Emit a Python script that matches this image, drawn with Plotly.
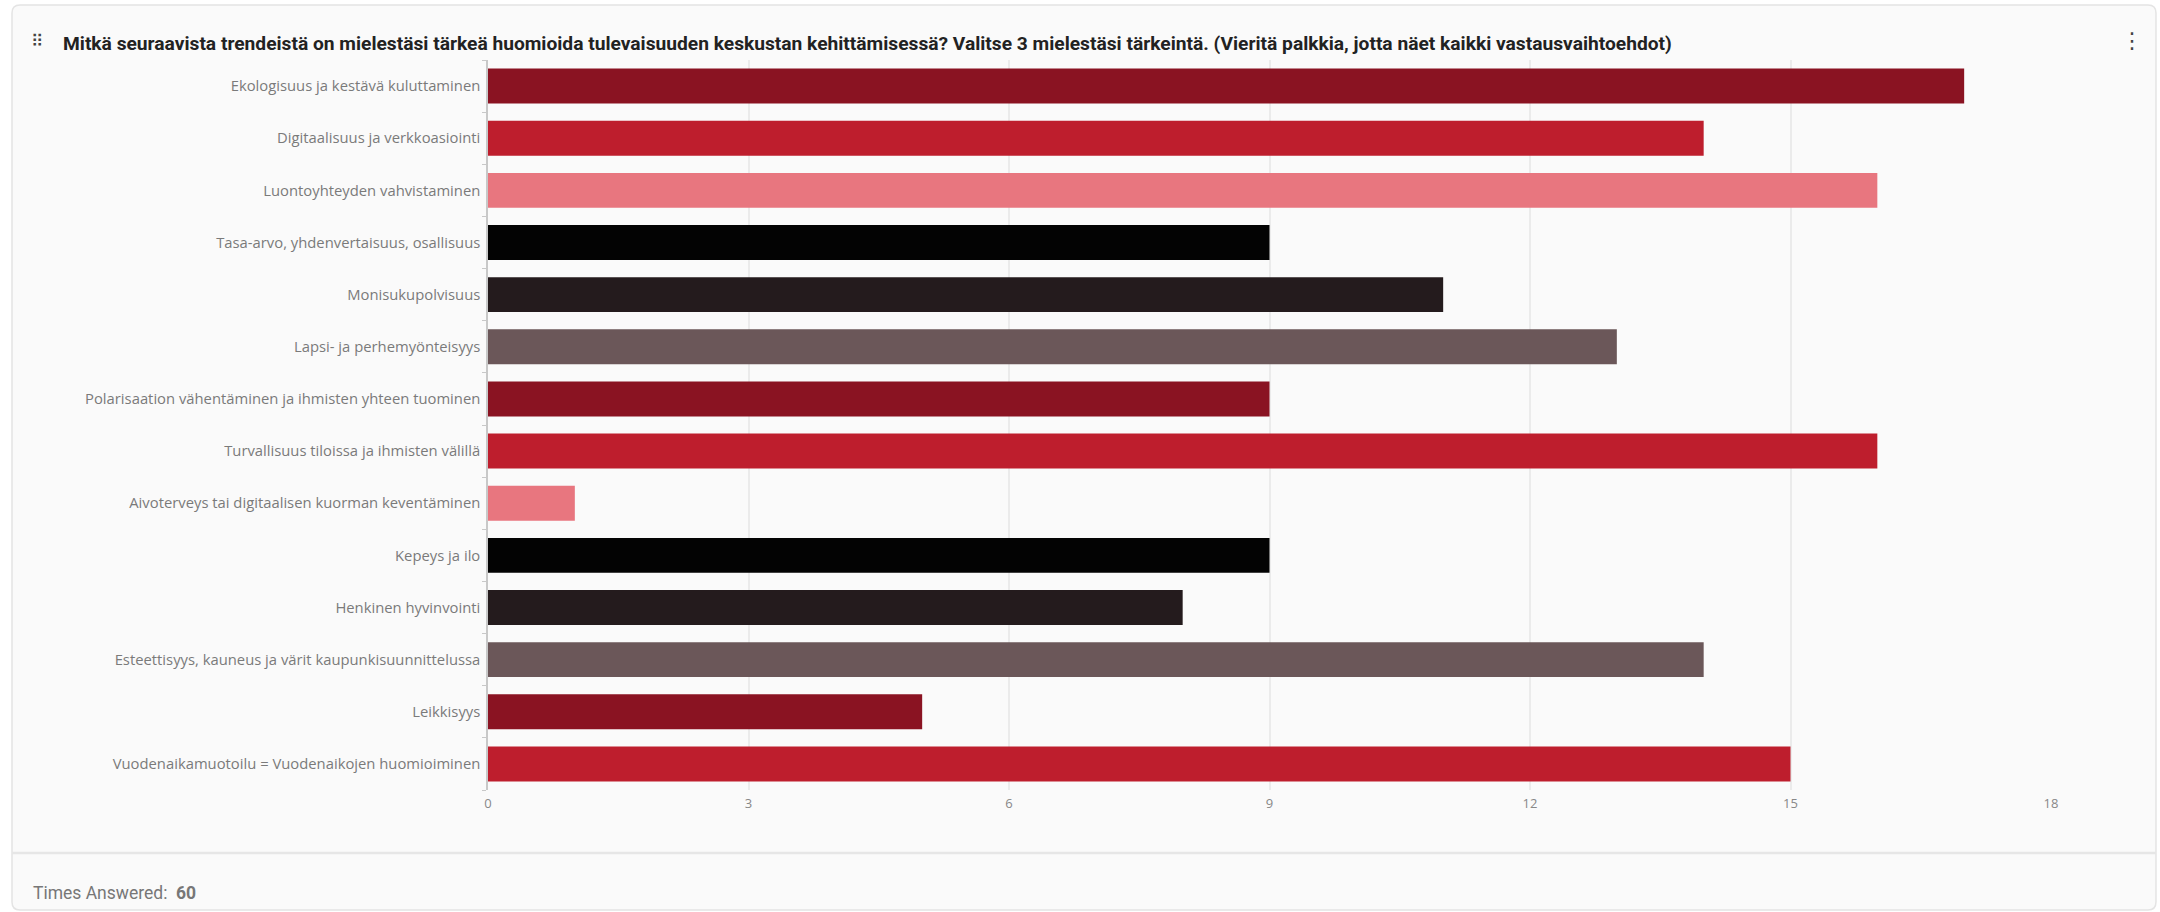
import plotly.graph_objects as go

title_text = ("Mitkä seuraavista trendeistä on mielestäsi tärkeä huomioida tulevaisuuden keskustan "
              "kehittämisessä? Valitse 3 mielestäsi tärkeintä. (Vieritä palkkia, jotta näet kaikki vastausvaihtoehdot)")

categories = [
    "Ekologisuus ja kestävä kuluttaminen",
    "Digitaalisuus ja verkkoasiointi",
    "Luontoyhteyden vahvistaminen",
    "Tasa-arvo, yhdenvertaisuus, osallisuus",
    "Monisukupolvisuus",
    "Lapsi- ja perhemyönteisyys",
    "Polarisaation vähentäminen ja ihmisten yhteen tuominen",
    "Turvallisuus tiloissa ja ihmisten välillä",
    "Aivoterveys tai digitaalisen kuorman keventäminen",
    "Kepeys ja ilo",
    "Henkinen hyvinvointi",
    "Esteettisyys, kauneus ja värit kaupunkisuunnittelussa",
    "Leikkisyys",
    "Vuodenaikamuotoilu = Vuodenaikojen huomioiminen",
]
values = [17, 14, 16, 9, 11, 13, 9, 16, 1, 9, 8, 14, 5, 15]
palette = ["#8A1322", "#BE1E2D", "#E8767F", "#030303", "#241B1D", "#6B5759"]
bar_colors = [palette[i % len(palette)] for i in range(len(categories))]
x_ticks = [0, 3, 6, 9, 12, 15, 18]
times_answered = 60

fig = go.Figure(go.Bar(
    x=values, y=categories, orientation="h",
    marker=dict(color=bar_colors, line=dict(width=0)),
    hoverinfo="x+y",
))

W, H = 2160, 912
fig.update_layout(
    width=W, height=H,
    margin=dict(l=0, r=0, t=0, b=0),
    paper_bgcolor="white",
    plot_bgcolor="rgba(0,0,0,0)",
    bargap=0.33,
    showlegend=False,
    font=dict(family="Open Sans", color="#555"),
)
fig.update_xaxes(
    domain=[488 / W, 2051 / W],
    range=[0, 18],
    tickvals=x_ticks,
    ticktext=[str(t) for t in x_ticks],
    showgrid=True, gridcolor="#ebebeb", gridwidth=1.5,
    zeroline=False,
    tickfont=dict(size=13, color="#888", family="Open Sans"),
    ticks="", ticklabelstandoff=4, automargin=False, fixedrange=True,
)
fig.update_yaxes(
    domain=[1 - 790 / H, 1 - 60 / H],
    categoryorder="array", categoryarray=categories[::-1],
    tickfont=dict(size=14.8, color="#7a7a7a", family="Open Sans"),
    ticks="outside", tickson="boundaries", ticklen=4, tickcolor="#c8c8c8", tickwidth=1,
    ticklabelstandoff=3,
    showline=True, linecolor="#c8c8c8", linewidth=1.5,
    showgrid=False, zeroline=False,
    automargin=False, fixedrange=True,
)

x0c, x1c, y0c, y1c, r = 12, 2156, 5, 910, 8
card_path = (f"M {x0c + r},{y0c} L {x1c - r},{y0c} Q {x1c},{y0c} {x1c},{y0c + r} "
             f"L {x1c},{y1c - r} Q {x1c},{y1c} {x1c - r},{y1c} L {x0c + r},{y1c} "
             f"Q {x0c},{y1c} {x0c},{y1c - r} L {x0c},{y0c + r} Q {x0c},{y0c} {x0c + r},{y0c} Z")


def px(path):
    # convert pixel path to paper coords
    out = []
    for tok in path.split(" "):
        if "," in tok:
            a, b = tok.split(",")
            out.append(f"{float(a) / W:.6f},{1 - float(b) / H:.6f}")
        else:
            out.append(tok)
    return " ".join(out)


shapes = [
    dict(type="path", xref="paper", yref="paper", path=px(card_path),
         fillcolor="#fafafa", line=dict(color="#e4e4e4", width=1.5), layer="below"),
    dict(type="line", xref="paper", yref="paper", x0=12 / W, x1=2156 / W, y0=1 - 853 / H, y1=1 - 853 / H,
         line=dict(color="#e6e6e6", width=2.5), layer="below"),
]
annotations = [
    dict(text="⠿", xref="paper", yref="paper", x=37 / W, y=1 - 41 / H, showarrow=False,
         font=dict(family="DejaVu Sans", size=17, color="#444"), xanchor="center", yanchor="middle"),
    dict(text="<b>" + title_text + "</b>", xref="paper", yref="paper", x=61 / W, y=1 - 43 / H,
         showarrow=False, xanchor="left", yanchor="middle",
         font=dict(family="Roboto", size=19.2, color="#222")),
    dict(text="⋮", xref="paper", yref="paper", x=2132 / W, y=1 - 40 / H, showarrow=False,
         font=dict(family="DejaVu Sans", size=22, color="#444"), xanchor="center", yanchor="middle"),
    dict(text="Times Answered:  <b>%d</b>" % times_answered, xref="paper", yref="paper", x=31 / W, y=1 - 893 / H,
         showarrow=False, xanchor="left", yanchor="middle",
         font=dict(family="Roboto", size=17.5, color="#777")),
]
fig.update_layout(shapes=shapes, annotations=annotations)

fig.write_html("out.html", config={"displayModeBar": False},
               post_script="document.body.style.margin='0';")
